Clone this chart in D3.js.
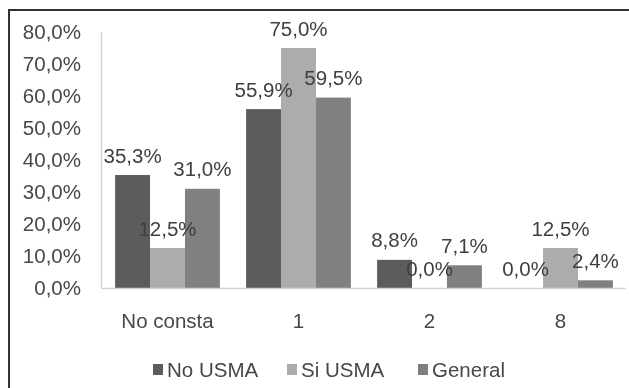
<!DOCTYPE html>
<html>
<head>
<meta charset="utf-8">
<script src="https://cdn.jsdelivr.net/npm/d3@7"></script>
<style>
  html, body { margin: 0; padding: 0; background: #fff; }
  svg { display: block; }
  text { font-family: "Liberation Sans", Arial, sans-serif; fill: #474747; }
</style>
</head>
<body>
<svg id="chart" width="629" height="388"></svg>
<script>
// Data
const categories = ["No consta", "1", "2", "8"];
const seriesNames = ["No USMA", "Si USMA", "General"];
const noUsma  = [35.3, 55.9, 8.8, 0.0];
const siUsma  = [12.5, 75.0, 0.0, 12.5];
const general = [31.0, 59.5, 7.1, 2.4];
const yTicks  = [0, 10, 20, 30, 40, 50, 60, 70, 80];
const colors  = ["#5c5c5c", "#acacac", "#808080"];

const seriesValues = [noUsma, siUsma, general];
const fmt = v => v.toFixed(1).replace(".", ",") + "%";
const FS = 20.5;

const svg = d3.select("#chart");

// soft look of the whole figure
const defs = svg.append("defs");
defs.append("filter").attr("id", "soft")
  .attr("x", "-5%").attr("y", "-5%").attr("width", "110%").attr("height", "110%")
  .append("feGaussianBlur").attr("stdDeviation", 0.6);

const g = svg.append("g").attr("filter", "url(#soft)");

// frame (top and left edges)
g.append("line").attr("x1", 8).attr("x2", 629).attr("y1", 10).attr("y2", 10)
  .attr("stroke", "#333").attr("stroke-width", 2);
g.append("line").attr("x1", 9).attr("x2", 9).attr("y1", 9).attr("y2", 388)
  .attr("stroke", "#333").attr("stroke-width", 2);

const plot = { left: 102, right: 626, top: 32, bottom: 288 };

const x0 = d3.scaleBand().domain(categories)
  .range([plot.left, plot.right]).paddingInner(0.2).paddingOuter(0.1);
const x1 = d3.scaleBand().domain(seriesNames).range([0, x0.bandwidth()]);
const y = d3.scaleLinear().domain([0, 80]).range([plot.bottom, plot.top]);

// y axis labels
const yAxis = d3.axisLeft(y).tickValues(yTicks).tickFormat(v => fmt(v)).tickSize(0).tickPadding(21);
const yg = g.append("g").attr("transform", `translate(${plot.left},0)`).call(yAxis);
yg.select(".domain").remove();
yg.selectAll("text").attr("font-size", FS).style("fill", "#474747")
  .attr("font-family", "Liberation Sans, Arial, sans-serif");

// axis lines
g.append("line").attr("x1", plot.left - 0.5).attr("x2", plot.left - 0.5)
  .attr("y1", plot.top).attr("y2", plot.bottom).attr("stroke", "#d4d4d4").attr("stroke-width", 1.5);

// bars
const groups = g.selectAll("g.cat").data(categories).join("g")
  .attr("class", "cat")
  .attr("transform", d => `translate(${x0(d)},0)`);

groups.selectAll("rect").data((d, i) => seriesNames.map((s, j) => ({ s, j, v: seriesValues[j][i] })))
  .join("rect")
  .attr("x", d => x1(d.s))
  .attr("width", x1.bandwidth())
  .attr("y", d => y(d.v))
  .attr("height", d => plot.bottom - y(d.v))
  .attr("fill", d => colors[d.j]);

g.append("line").attr("x1", plot.left - 1).attr("x2", plot.right)
  .attr("y1", plot.bottom + 0.5).attr("y2", plot.bottom + 0.5)
  .attr("stroke", "#d4d4d4").attr("stroke-width", 1.5);

// value labels
groups.selectAll("text.val").data((d, i) => seriesNames.map((s, j) => ({ s, j, v: seriesValues[j][i] })))
  .join("text")
  .attr("class", "val")
  .attr("x", d => x1(d.s) + x1.bandwidth() / 2)
  .attr("y", d => y(d.v) - 12.5)
  .attr("text-anchor", "middle")
  .attr("font-size", FS)
  .style("fill", "#3f3f3f")
  .text(d => fmt(d.v));

// x axis labels
const xAxis = d3.axisBottom(x0).tickSize(0).tickPadding(25);
const xg = g.append("g").attr("transform", `translate(0,${plot.bottom})`).call(xAxis);
xg.select(".domain").remove();
xg.selectAll("text").attr("font-size", FS).style("fill", "#474747")
  .attr("font-family", "Liberation Sans, Arial, sans-serif");

// legend
const legendX = [153, 287, 418];
const legend = g.selectAll("g.leg").data(seriesNames).join("g")
  .attr("class", "leg")
  .attr("transform", (d, i) => `translate(${legendX[i]},370)`);
legend.append("rect").attr("x", 0).attr("y", -6).attr("width", 10).attr("height", 11)
  .attr("fill", (d, i) => colors[i]);
legend.append("text").attr("x", 14).attr("y", 7).attr("font-size", FS).text(d => d);
</script>
</body>
</html>
